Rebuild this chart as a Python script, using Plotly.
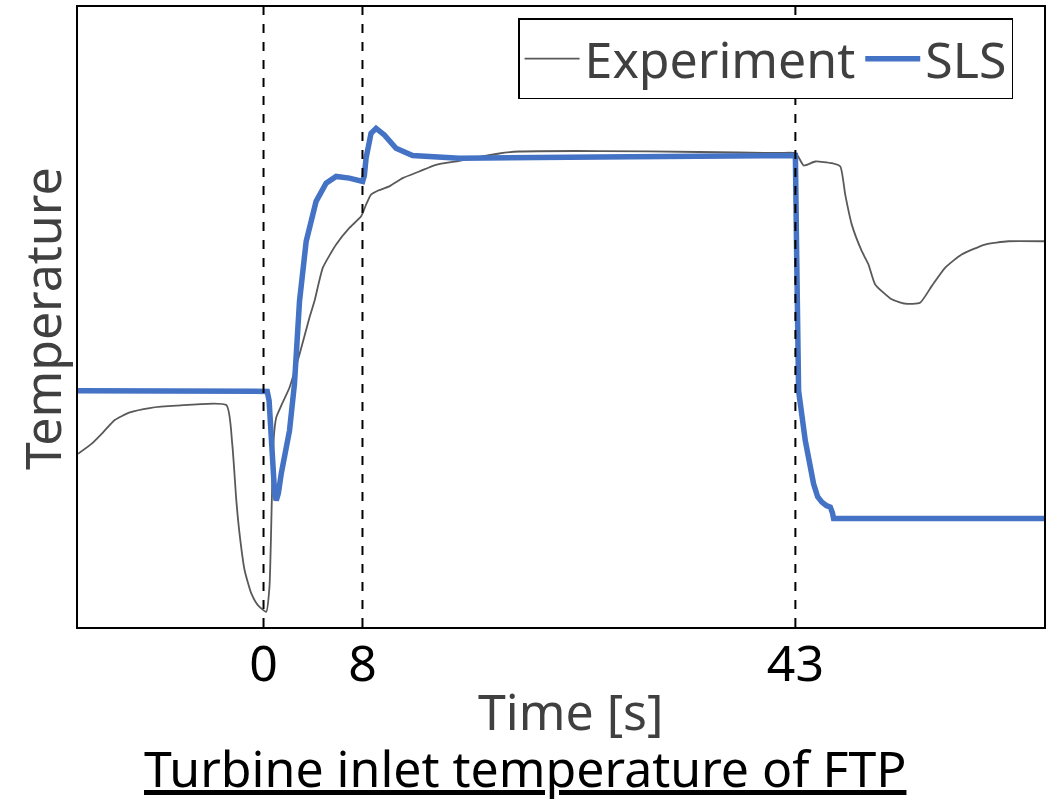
import plotly.graph_objects as go

# Time [s] and temperature (arbitrary units, axis unlabeled)
exp_t = [-15.0, -13.91, -12.97, -12.03, -10.81, -9.20, -7.05, -3.01, -2.53, -2.20, -1.94, -1.53,
         -0.99, -0.46, 0.22, 0.48, 0.67, 0.81, 1.03, 1.43, 2.10, 2.91, 3.71, 4.12, 4.79, 5.87,
         6.94, 7.89, 8.29, 8.69, 9.23, 10.17, 11.24, 12.59, 13.94, 15.82, 19.05, 20.66, 27.12,
         35.19, 41.65, 43.04, 43.67, 44.61, 45.95, 46.63, 47.03, 47.56, 48.37, 48.91, 49.45,
         50.79, 51.87, 53.08, 54.02, 55.10, 56.44, 58.33, 60.21, 63.1]
exp_T = [27.93, 29.53, 31.40, 33.39, 34.61, 35.32, 35.69, 35.80, 29.53, 20.42, 15.06, 9.16,
         5.42, 3.54, 2.46, 6.48, 20.42, 30.06, 33.81, 35.69, 38.63, 44.00, 49.89, 52.57, 57.93,
         61.69, 64.36, 66.24, 68.12, 69.73, 70.37, 71.06, 72.40, 73.47, 74.55, 75.19, 76.37,
         76.69, 76.77, 76.61, 76.45, 76.42, 74.44, 75.08, 74.81, 74.28, 69.73, 64.90, 60.61,
         58.47, 55.26, 52.85, 52.14, 52.30, 54.98, 57.93, 60.08, 61.69, 62.22, 62.22]

sls_t = [-15.0, 0.0, 0.3, 0.45, 0.54, 0.75, 0.9, 1.03, 1.2, 1.43, 2.10, 2.50, 2.91, 3.45, 4.25,
         5.06, 5.87, 6.94, 7.8, 8.01, 8.15, 8.29, 8.69, 9.10, 9.77, 10.71, 12.05, 15.82, 27.12,
         43.0, 43.10, 43.14, 43.26, 43.80, 44.47, 44.8, 45.14, 45.5, 45.82, 46.0, 46.09, 63.1]
sls_T = [38.10, 38.10, 38.0, 36.5, 33.81, 24.71, 21.5, 20.42, 21.6, 24.71, 31.67, 39.18, 52.57,
         62.22, 68.65, 71.59, 72.67, 72.40, 71.9, 71.86, 72.8, 75.61, 79.63, 80.43, 79.37,
         77.22, 76.05, 75.61, 75.80, 76.05, 60.61, 46.14, 38.10, 30.06, 23.10, 21.0, 20.14,
         19.6, 19.34, 18.4, 17.48, 17.48]

event_times = [0, 8, 43]
tick_labels = ["0", "8", "43"]

FONT = "Noto Sans"
FS = 50

fig = go.Figure()
fig.add_trace(go.Scatter(x=exp_t, y=exp_T, mode="lines", name="Experiment",
                         line=dict(color="#595959", width=1.8, shape="spline", smoothing=0.5)))
fig.add_trace(go.Scatter(x=sls_t, y=sls_T, mode="lines", name="SLS",
                         line=dict(color="#4472C4", width=5.5)))

for t in event_times:
    fig.add_shape(type="line", x0=t, x1=t, xref="x", y0=0, y1=1, yref="paper",
                  line=dict(color="black", width=2, dash="dash"), layer="above")

fig.update_layout(
    width=1051, height=803,
    margin=dict(l=78, r=5, t=5, b=176),
    paper_bgcolor="white", plot_bgcolor="white",
    font=dict(family=FONT, color="#404040"),
    showlegend=True,
    legend=dict(orientation="h", x=0.968, xanchor="right", y=0.982, yanchor="top",
                bordercolor="black", borderwidth=1.5, bgcolor="white",
                font=dict(size=FS, color="#404040", family=FONT),
                itemwidth=55, tracegroupgap=0),
    xaxis=dict(range=[-15.0, 63.1], tickvals=event_times, ticktext=tick_labels,
               ticks="", showgrid=False, zeroline=False,
               showline=True, linecolor="black", linewidth=1.5, mirror=True,
               tickfont=dict(size=FS, color="black", family=FONT),
               ticklabelstandoff=-8),
    yaxis=dict(range=[0, 100], showticklabels=False, ticks="", showgrid=False,
               zeroline=False, showline=True, linecolor="black", linewidth=1.5, mirror=True),
)

fig.add_annotation(text="Temperature", xref="paper", yref="paper", x=-0.037, y=0.497,
                   textangle=-90, showarrow=False, xanchor="center", yanchor="middle",
                   font=dict(size=FS, color="#404040", family=FONT))
fig.add_annotation(text="Time [s]", xref="paper", yref="paper", x=0.510, y=-0.135,
                   showarrow=False, yanchor="middle",
                   font=dict(size=FS, color="#404040", family=FONT))
fig.add_annotation(text="<u>Turbine inlet temperature of FTP</u>", xref="paper", yref="paper",
                   x=0.463, y=-0.227, showarrow=False, yanchor="middle",
                   font=dict(size=FS, color="black", family=FONT))

fig.write_html("out.html", config={"displayModeBar": False},
               post_script="document.body.style.margin='0';")
